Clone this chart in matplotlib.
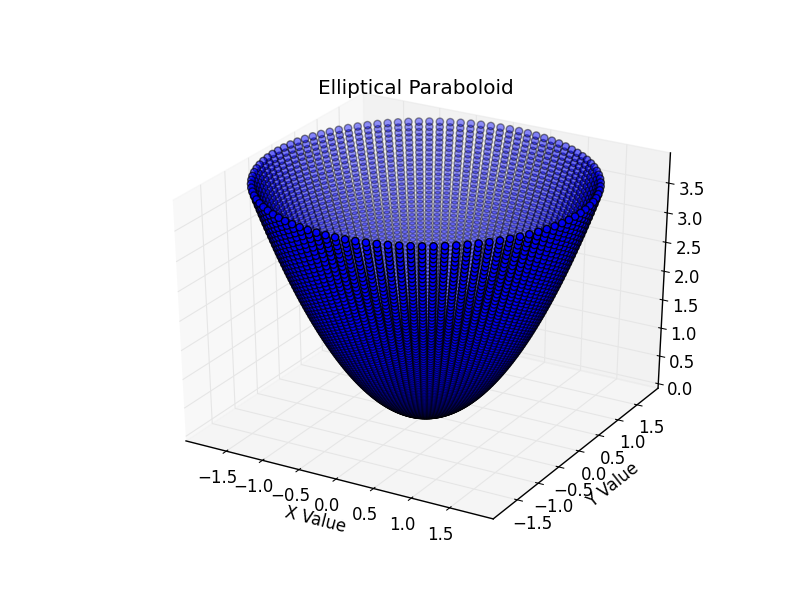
import numpy as np
import matplotlib
matplotlib.use("Agg")
import matplotlib.pyplot as plt
from mpl_toolkits.mplot3d import Axes3D

# rings of the bowl
ring_radius = [0.00, 0.02, 0.04, 0.06, 0.08, 0.10, 0.12, 0.14, 0.16, 0.18,
               0.20, 0.22, 0.24, 0.26, 0.28, 0.30, 0.32, 0.34, 0.36, 0.38,
               0.40, 0.42, 0.44, 0.46, 0.48, 0.50, 0.52, 0.54, 0.56, 0.58,
               0.60, 0.62, 0.64, 0.66, 0.68, 0.70, 0.72, 0.74, 0.76, 0.78,
               0.80, 0.82, 0.84, 0.86, 0.88, 0.90, 0.92, 0.94, 0.96, 0.98,
               1.00, 1.02, 1.04, 1.06, 1.08, 1.10, 1.12, 1.14, 1.16, 1.18,
               1.20, 1.22, 1.24, 1.26, 1.28, 1.30, 1.32, 1.34, 1.36, 1.38,
               1.40, 1.42, 1.44, 1.46, 1.48, 1.50, 1.52, 1.54, 1.56, 1.58,
               1.60, 1.62, 1.64, 1.66, 1.68, 1.70, 1.72, 1.74, 1.76, 1.78,
               1.80, 1.82, 1.84, 1.86, 1.88, 1.90, 1.92, 1.94, 1.96, 1.98]
ring_height = [0.0000, 0.0004, 0.0016, 0.0036, 0.0064, 0.0100, 0.0144, 0.0196, 0.0256, 0.0324,
               0.0400, 0.0484, 0.0576, 0.0676, 0.0784, 0.0900, 0.1024, 0.1156, 0.1296, 0.1444,
               0.1600, 0.1764, 0.1936, 0.2116, 0.2304, 0.2500, 0.2704, 0.2916, 0.3136, 0.3364,
               0.3600, 0.3844, 0.4096, 0.4356, 0.4624, 0.4900, 0.5184, 0.5476, 0.5776, 0.6084,
               0.6400, 0.6724, 0.7056, 0.7396, 0.7744, 0.8100, 0.8464, 0.8836, 0.9216, 0.9604,
               1.0000, 1.0404, 1.0816, 1.1236, 1.1664, 1.2100, 1.2544, 1.2996, 1.3456, 1.3924,
               1.4400, 1.4884, 1.5376, 1.5876, 1.6384, 1.6900, 1.7424, 1.7956, 1.8496, 1.9044,
               1.9600, 2.0164, 2.0736, 2.1316, 2.1904, 2.2500, 2.3104, 2.3716, 2.4336, 2.4964,
               2.5600, 2.6244, 2.6896, 2.7556, 2.8224, 2.8900, 2.9584, 3.0276, 3.0976, 3.1684,
               3.2400, 3.3124, 3.3856, 3.4596, 3.5344, 3.6100, 3.6864, 3.7636, 3.8416, 3.9204]
spoke_angle = [0.0, 3.6, 7.2, 10.8, 14.4, 18.0, 21.6, 25.2, 28.8, 32.4,
               36.0, 39.6, 43.2, 46.8, 50.4, 54.0, 57.6, 61.2, 64.8, 68.4,
               72.0, 75.6, 79.2, 82.8, 86.4, 90.0, 93.6, 97.2, 100.8, 104.4,
               108.0, 111.6, 115.2, 118.8, 122.4, 126.0, 129.6, 133.2, 136.8, 140.4,
               144.0, 147.6, 151.2, 154.8, 158.4, 162.0, 165.6, 169.2, 172.8, 176.4,
               180.0, 183.6, 187.2, 190.8, 194.4, 198.0, 201.6, 205.2, 208.8, 212.4,
               216.0, 219.6, 223.2, 226.8, 230.4, 234.0, 237.6, 241.2, 244.8, 248.4,
               252.0, 255.6, 259.2, 262.8, 266.4, 270.0, 273.6, 277.2, 280.8, 284.4,
               288.0, 291.6, 295.2, 298.8, 302.4, 306.0, 309.6, 313.2, 316.8, 320.4,
               324.0, 327.6, 331.2, 334.8, 338.4, 342.0, 345.6, 349.2, 352.8, 356.4]
xy_ticks = [-1.5, -1.0, -0.5, 0.0, 0.5, 1.0, 1.5]
z_ticks = [0.0, 0.5, 1.0, 1.5, 2.0, 2.5, 3.0, 3.5]

plt.rcParams['axes3d.automargin'] = True
plt.rcParams['font.size'] = 12

fig = plt.figure(figsize=(8.12, 6.12), dpi=100)
ax = fig.add_axes([0.125 + 6 / 812, 0.1 + 6 / 612, 0.775 * 800 / 812, 0.8 * 600 / 612], projection='3d')
# keep the axes stretched to the whole box instead of square
ax.apply_aspect = lambda position=None: None
ax.set_box_aspect((1, 1, 1), zoom=1.058 / 1.1002)
ax.view_init(elev=30, azim=-60)

angle = np.radians(spoke_angle)
r = np.array(ring_radius)
x = np.outer(r, np.cos(angle)).ravel()
y = np.outer(r, np.sin(angle)).ravel()
z = np.repeat(ring_height, len(spoke_angle))

ax.scatter(x, y, z, c='b', s=28, edgecolors='k', linewidths=1, snap=False)

ax.set_xlim(-1.98, 1.98)
ax.set_ylim(-1.98, 1.98)
ax.set_zlim(0, 3.92)
ax.set_xticks(xy_ticks)
ax.set_yticks(xy_ticks)
ax.set_zticks(z_ticks)
ax.set_title('Elliptical Paraboloid', fontsize=14.4, x=0.498, y=1.002)
ax.set_xlabel('X Value', labelpad=2)
ax.set_ylabel('Y Value', labelpad=2)

for axis in (ax.xaxis, ax.yaxis, ax.zaxis):
    axis.line.set_linewidth(1)
    axis.line.set_color('k')
    axis._axinfo['grid']['color'] = (0.9, 0.9, 0.9, 1)
    axis._axinfo['tick']['linewidth'] = {True: 0.75, False: 0.5}

ax.tick_params(axis='x', pad=2)
ax.tick_params(axis='y', pad=2)
ax.tick_params(axis='z', pad=2)

fig.savefig('out.png', dpi=100)
